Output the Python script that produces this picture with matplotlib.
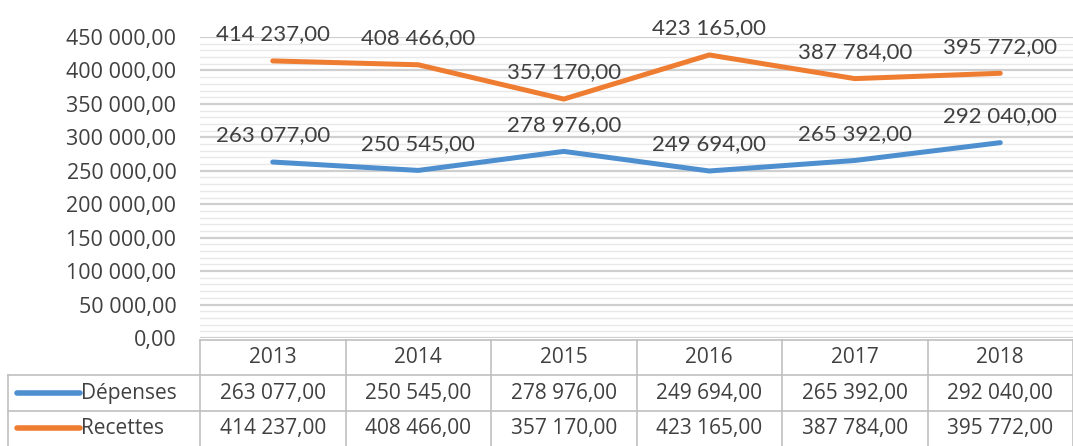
import matplotlib
matplotlib.use("Agg")
import matplotlib.pyplot as plt
from matplotlib.ticker import MultipleLocator, FuncFormatter

years = ["2013", "2014", "2015", "2016", "2017", "2018"]
depenses = [263077.00, 250545.00, 278976.00, 249694.00, 265392.00, 292040.00]
recettes = [414237.00, 408466.00, 357170.00, 423165.00, 387784.00, 395772.00]
series_names = ["Dépenses", "Recettes"]
colors = ["#4e8fd0", "#ee7d31"]


def fr(v):
    # french number format: 263 077,00
    return f"{v:,.2f}".replace(",", " ").replace(".", ",")


fig = plt.figure(figsize=(10.73, 4.46), dpi=100)
ax = fig.add_axes([200/1073, (446-338)/446, 873/1073, (338-37)/446])

x = list(range(len(years)))
for vals, c in zip([depenses, recettes], colors):
    ax.plot(x, vals, color=c, lw=3.6, solid_capstyle="round", solid_joinstyle="round")
    for xi, v in zip(x, vals):
        ax.annotate(fr(v), (xi, v), xytext=(0, 12), textcoords="offset points",
                    ha="center", va="bottom", fontsize=16, color="#404040",
                    family="Lato")

ax.set_xlim(-0.5, 5.5)
ax.set_ylim(0, 450000)
ax.yaxis.set_major_locator(MultipleLocator(50000))
ax.yaxis.set_minor_locator(MultipleLocator(10000))
ax.yaxis.set_major_formatter(FuncFormatter(lambda v, p: fr(v)))
ax.grid(True, which="major", axis="y", color="#cfcfcf", lw=1.6)
ax.grid(True, which="minor", axis="y", color="#e8e8e8", lw=1.0)
ax.set_axisbelow(True)
ax.tick_params(axis="y", which="both", length=0, pad=17, labelsize=15.5, labelcolor="#404040")
for lab in ax.get_yticklabels():
    lab.set_family("Open Sans")
ax.set_xticks([])
for s in ax.spines.values():
    s.set_visible(False)

# data table under the chart
tax = fig.add_axes([0, 0, 1, (446-340)/446])
tax.set_xlim(-0.5 - 200/145.5, 5.5)
tax.set_ylim(0, 3)
tax.axis("off")
gc = "#c0c0c0"
left = -0.5 - 192/145.5
tax.plot([-0.5, 5.5], [3, 3], color=gc, lw=1.2, clip_on=False)
tax.plot([left, 5.5], [2, 2], color=gc, lw=1.2)
tax.plot([left, 5.5], [1, 1], color=gc, lw=1.2)
tax.plot([left, left], [0, 2], color=gc, lw=1.2)
for i in range(len(years) + 1):
    tax.plot([i - 0.5, i - 0.5], [0, 3], color=gc, lw=1.2, clip_on=False)

tfont = dict(fontsize=15, color="#404040", family="Open Sans", va="center", ha="center")
for i, yr in enumerate(years):
    tax.text(i, 2.5, yr, **tfont)
for r, (name, vals, c) in enumerate(zip(series_names, [depenses, recettes], colors)):
    yrow = 1.5 - r
    lx0 = -0.5 - 183/145.5
    lx1 = -0.5 - 120/145.5
    tax.plot([lx0, lx1], [yrow, yrow], color=c, lw=4, solid_capstyle="round")
    tax.text(lx1 + 0.005, yrow, name, fontsize=15, color="#404040", family="Open Sans",
             va="center", ha="left")
    for i, v in enumerate(vals):
        tax.text(i, yrow, fr(v), **tfont)

fig.savefig("out.png", dpi=100)
